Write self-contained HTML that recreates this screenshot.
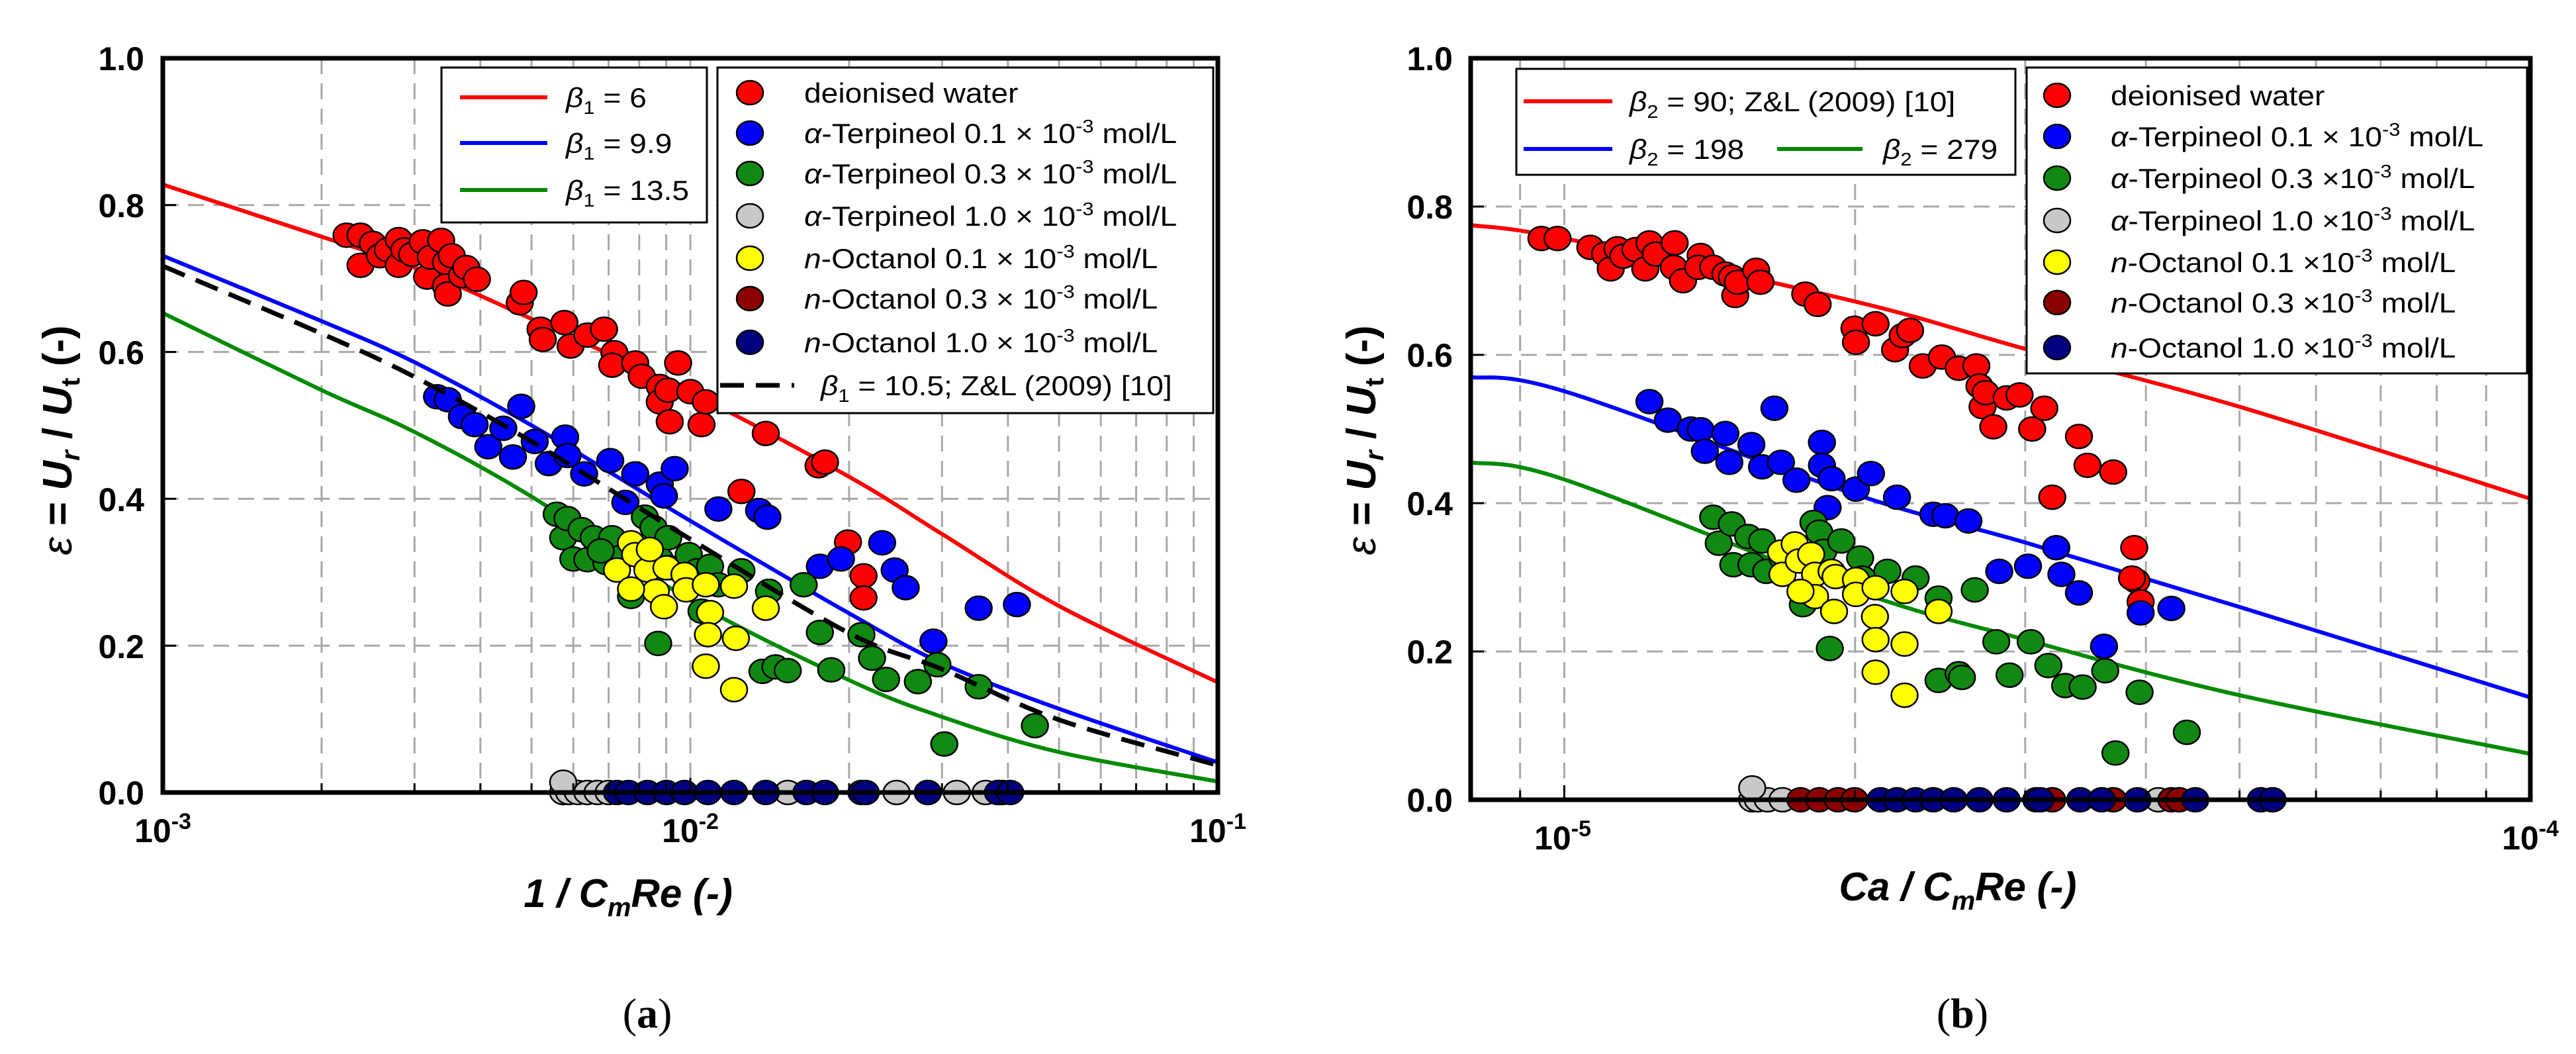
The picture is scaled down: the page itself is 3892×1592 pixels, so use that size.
<!DOCTYPE html>
<html><head><meta charset="utf-8"><style>
html,body{margin:0;padding:0;background:#fff;}
svg{display:block;font-family:"Liberation Sans",Arial,sans-serif;}
</style></head><body>
<svg id="fig" width="3892" height="1592" viewBox="0 0 3892 1592" xmlns="http://www.w3.org/2000/svg">
<rect x="0" y="0" width="3892" height="1592" fill="#fff"/>
<g id="gridA"></g>
<g id="gridB"></g>
<g id="curvesA"></g>
<g id="curvesB"></g>
<g id="ptsA"></g>
<g id="ptsB"></g>
<g id="ticksA"></g>
<g id="ticksB"></g>
<rect x="246" y="88" width="1594" height="1109" fill="none" stroke="#000" stroke-width="7"/>
<rect x="2222" y="88" width="1601" height="1120" fill="none" stroke="#000" stroke-width="7"/>

<g font-weight="bold" font-size="50" text-anchor="end">
<text x="218" y="106">1.0</text><text x="218" y="328">0.8</text><text x="218" y="550">0.6</text><text x="218" y="772">0.4</text><text x="218" y="994">0.2</text><text x="218" y="1215">0.0</text>
</g>
<g font-weight="bold" font-size="50" text-anchor="middle">
<text x="246" y="1272">10<tspan font-size="34" dy="-20">-3</tspan></text>
<text x="1043" y="1272">10<tspan font-size="34" dy="-20">-2</tspan></text>
<text x="1840" y="1272">10<tspan font-size="34" dy="-20">-1</tspan></text>
</g>
<text transform="translate(108,665) rotate(-90)" text-anchor="middle" font-size="62" font-weight="bold"><tspan font-style="italic" font-weight="normal">ε</tspan> = <tspan font-style="italic">U</tspan><tspan font-size="40" dy="12" font-style="italic">r</tspan><tspan dy="-12"> / </tspan><tspan font-style="italic">U</tspan><tspan font-size="40" dy="12">t</tspan><tspan dy="-12"> (-)</tspan></text>
<text x="949" y="1370" text-anchor="middle" font-size="60" font-weight="bold" font-style="italic">1 / C<tspan font-size="40" dy="14">m</tspan><tspan dy="-14">Re (-)</tspan></text>
<text x="978" y="1552" text-anchor="middle" font-size="64" font-family="Liberation Serif, serif">(<tspan font-weight="bold">a</tspan>)</text>

<g font-weight="bold" font-size="50" text-anchor="end">
<text x="2195" y="106">1.0</text><text x="2195" y="330">0.8</text><text x="2195" y="554">0.6</text><text x="2195" y="778">0.4</text><text x="2195" y="1002">0.2</text><text x="2195" y="1226">0.0</text>
</g>
<g font-weight="bold" font-size="50" text-anchor="middle">
<text x="2361" y="1283">10<tspan font-size="34" dy="-20">-5</tspan></text>
<text x="3823" y="1283">10<tspan font-size="34" dy="-20">-4</tspan></text>
</g>
<text transform="translate(2078,665) rotate(-90)" text-anchor="middle" font-size="62" font-weight="bold"><tspan font-style="italic" font-weight="normal">ε</tspan> = <tspan font-style="italic">U</tspan><tspan font-size="40" dy="12" font-style="italic">r</tspan><tspan dy="-12"> / </tspan><tspan font-style="italic">U</tspan><tspan font-size="40" dy="12">t</tspan><tspan dy="-12"> (-)</tspan></text>
<text x="2958" y="1360" text-anchor="middle" font-size="60" font-weight="bold" font-style="italic">Ca / C<tspan font-size="40" dy="14">m</tspan><tspan dy="-14">Re (-)</tspan></text>
<text x="2965" y="1552" text-anchor="middle" font-size="64" font-family="Liberation Serif, serif">(<tspan font-weight="bold">b</tspan>)</text>

<g font-size="42">
<rect x="667" y="102" width="401" height="234" fill="#fff" stroke="#000" stroke-width="3"/>
<line x1="695" y1="147" x2="827" y2="147" stroke="#ff0000" stroke-width="6"/>
<line x1="695" y1="216" x2="827" y2="216" stroke="#0000ff" stroke-width="6"/>
<line x1="695" y1="287" x2="827" y2="287" stroke="#008a00" stroke-width="6"/>
<text x="855" y="162" transform="translate(855,0) scale(1.1,1) translate(-855,0)"><tspan font-style="italic">β</tspan><tspan font-size="28" dy="10">1</tspan><tspan dy="-10"> = 6</tspan></text>
<text x="855" y="231" transform="translate(855,0) scale(1.1,1) translate(-855,0)"><tspan font-style="italic">β</tspan><tspan font-size="28" dy="10">1</tspan><tspan dy="-10"> = 9.9</tspan></text>
<text x="855" y="302" transform="translate(855,0) scale(1.1,1) translate(-855,0)"><tspan font-style="italic">β</tspan><tspan font-size="28" dy="10">1</tspan><tspan dy="-10"> = 13.5</tspan></text>
</g>
<g font-size="42">
<rect x="1084" y="102" width="749" height="522" fill="#fff" stroke="#000" stroke-width="3"/>
<ellipse cx="1133" cy="140" rx="20" ry="18" fill="#ff0000" stroke="#000" stroke-width="2.5"/>
<ellipse cx="1133" cy="201" rx="20" ry="18" fill="#0000ff" stroke="#000" stroke-width="2.5"/>
<ellipse cx="1133" cy="262" rx="20" ry="18" fill="#118811" stroke="#000" stroke-width="2.5"/>
<ellipse cx="1133" cy="326" rx="20" ry="18" fill="#c8c8c8" stroke="#000" stroke-width="2.5"/>
<ellipse cx="1133" cy="390" rx="20" ry="18" fill="#ffff00" stroke="#000" stroke-width="2.5"/>
<ellipse cx="1133" cy="451" rx="20" ry="18" fill="#8b0000" stroke="#000" stroke-width="2.5"/>
<ellipse cx="1133" cy="517" rx="20" ry="18" fill="#000080" stroke="#000" stroke-width="2.5"/>
<g transform="translate(1215,0) scale(1.1,1)">
<text x="0" y="155">deionised water</text>
<text x="0" y="216"><tspan font-style="italic">α</tspan>-Terpineol 0.1 × 10<tspan font-size="28" dy="-16">-3</tspan><tspan dy="16"> mol/L</tspan></text>
<text x="0" y="277"><tspan font-style="italic">α</tspan>-Terpineol 0.3 × 10<tspan font-size="28" dy="-16">-3</tspan><tspan dy="16"> mol/L</tspan></text>
<text x="0" y="341"><tspan font-style="italic">α</tspan>-Terpineol 1.0 × 10<tspan font-size="28" dy="-16">-3</tspan><tspan dy="16"> mol/L</tspan></text>
<text x="0" y="405"><tspan font-style="italic">n</tspan>-Octanol 0.1 × 10<tspan font-size="28" dy="-16">-3</tspan><tspan dy="16"> mol/L</tspan></text>
<text x="0" y="466"><tspan font-style="italic">n</tspan>-Octanol 0.3 × 10<tspan font-size="28" dy="-16">-3</tspan><tspan dy="16"> mol/L</tspan></text>
<text x="0" y="532"><tspan font-style="italic">n</tspan>-Octanol 1.0 × 10<tspan font-size="28" dy="-16">-3</tspan><tspan dy="16"> mol/L</tspan></text>
</g>
<line x1="1088" y1="582" x2="1200" y2="582" stroke="#000" stroke-width="7" stroke-dasharray="36 18"/>
<text x="1240" y="597" transform="translate(1240,0) scale(1.1,1) translate(-1240,0)"><tspan font-style="italic">β</tspan><tspan font-size="28" dy="10">1</tspan><tspan dy="-10"> = 10.5; Z&amp;L (2009) [10]</tspan></text>
</g>

<g font-size="42">
<rect x="2291" y="104" width="754" height="160" fill="#fff" stroke="#000" stroke-width="3"/>
<line x1="2302" y1="153" x2="2436" y2="153" stroke="#ff0000" stroke-width="6"/>
<line x1="2302" y1="225" x2="2436" y2="225" stroke="#0000ff" stroke-width="6"/>
<line x1="2685" y1="225" x2="2814" y2="225" stroke="#008a00" stroke-width="6"/>
<text x="2462" y="168" transform="translate(2462,0) scale(1.1,1) translate(-2462,0)"><tspan font-style="italic">β</tspan><tspan font-size="28" dy="10">2</tspan><tspan dy="-10"> = 90; Z&amp;L (2009) [10]</tspan></text>
<text x="2462" y="240" transform="translate(2462,0) scale(1.1,1) translate(-2462,0)"><tspan font-style="italic">β</tspan><tspan font-size="28" dy="10">2</tspan><tspan dy="-10"> = 198</tspan></text>
<text x="2845" y="240" transform="translate(2845,0) scale(1.1,1) translate(-2845,0)"><tspan font-style="italic">β</tspan><tspan font-size="28" dy="10">2</tspan><tspan dy="-10"> = 279</tspan></text>
</g>
<g font-size="42">
<rect x="3062" y="102" width="756" height="462" fill="#fff" stroke="#000" stroke-width="3"/>
<ellipse cx="3108" cy="144" rx="20" ry="18" fill="#ff0000" stroke="#000" stroke-width="2.5"/>
<ellipse cx="3108" cy="206" rx="20" ry="18" fill="#0000ff" stroke="#000" stroke-width="2.5"/>
<ellipse cx="3108" cy="269" rx="20" ry="18" fill="#118811" stroke="#000" stroke-width="2.5"/>
<ellipse cx="3108" cy="333" rx="20" ry="18" fill="#c8c8c8" stroke="#000" stroke-width="2.5"/>
<ellipse cx="3108" cy="396" rx="20" ry="18" fill="#ffff00" stroke="#000" stroke-width="2.5"/>
<ellipse cx="3108" cy="457" rx="20" ry="18" fill="#8b0000" stroke="#000" stroke-width="2.5"/>
<ellipse cx="3108" cy="525" rx="20" ry="18" fill="#000080" stroke="#000" stroke-width="2.5"/>
<g transform="translate(3189,0) scale(1.1,1)">
<text x="0" y="159">deionised water</text>
<text x="0" y="221"><tspan font-style="italic">α</tspan>-Terpineol 0.1 × 10<tspan font-size="28" dy="-16">-3</tspan><tspan dy="16"> mol/L</tspan></text>
<text x="0" y="284"><tspan font-style="italic">α</tspan>-Terpineol 0.3 ×10<tspan font-size="28" dy="-16">-3</tspan><tspan dy="16"> mol/L</tspan></text>
<text x="0" y="348"><tspan font-style="italic">α</tspan>-Terpineol 1.0 ×10<tspan font-size="28" dy="-16">-3</tspan><tspan dy="16"> mol/L</tspan></text>
<text x="0" y="411"><tspan font-style="italic">n</tspan>-Octanol 0.1 ×10<tspan font-size="28" dy="-16">-3</tspan><tspan dy="16"> mol/L</tspan></text>
<text x="0" y="472"><tspan font-style="italic">n</tspan>-Octanol 0.3 ×10<tspan font-size="28" dy="-16">-3</tspan><tspan dy="16"> mol/L</tspan></text>
<text x="0" y="540"><tspan font-style="italic">n</tspan>-Octanol 1.0 ×10<tspan font-size="28" dy="-16">-3</tspan><tspan dy="16"> mol/L</tspan></text>
</g>
</g>
</svg>
<script>
// ---------- Panel A data (x = 1/CmRe) ----------
const aRedX=[2.23e-3,2.37e-3,2.37e-3,2.50e-3,2.58e-3,2.67e-3,2.80e-3,2.80e-3,2.87e-3,2.97e-3,3.11e-3,3.17e-3,3.22e-3,3.37e-3,3.44e-3,3.53e-3,3.44e-3,3.47e-3,3.69e-3,3.76e-3,3.94e-3,4.75e-3,4.83e-3,5.20e-3,5.25e-3,5.77e-3,5.93e-3,6.38e-3,6.86e-3,7.18e-3,7.11e-3,7.86e-3,8.09e-3,8.75e-3,8.75e-3,9.08e-3,9.14e-3,9.48e-3,1.00e-2,1.05e-2,1.07e-2,1.39e-2,1.75e-2,1.80e-2,1.25e-2,1.99e-2,2.13e-2,2.13e-2];
const aRedY=[0.759,0.759,0.718,0.748,0.731,0.739,0.753,0.718,0.739,0.733,0.750,0.702,0.729,0.752,0.722,0.731,0.690,0.679,0.704,0.715,0.699,0.667,0.681,0.631,0.617,0.640,0.608,0.623,0.631,0.599,0.582,0.585,0.567,0.553,0.532,0.548,0.505,0.585,0.546,0.501,0.532,0.489,0.445,0.450,0.410,0.341,0.295,0.265];
const aBlueX=[3.31e-3,3.47e-3,3.69e-3,3.90e-3,4.14e-3,4.42e-3,4.61e-3,4.78e-3,5.07e-3,5.39e-3,5.79e-3,5.85e-3,6.29e-3,7.05e-3,7.53e-3,7.86e-3,8.75e-3,8.91e-3,9.34e-3,1.13e-2,1.35e-2,1.40e-2,1.76e-2,1.93e-2,2.31e-2,2.44e-2,2.56e-2,2.89e-2,3.52e-2,4.16e-2];
const aBlueY=[0.539,0.535,0.512,0.501,0.471,0.496,0.457,0.526,0.478,0.448,0.484,0.459,0.434,0.452,0.395,0.434,0.420,0.404,0.441,0.386,0.384,0.375,0.308,0.318,0.340,0.303,0.279,0.206,0.251,0.256];
const aGreenX=[5.58e-3,5.74e-3,5.85e-3,6.00e-3,6.22e-3,6.38e-3,6.56e-3,6.93e-3,7.11e-3,7.36e-3,7.72e-3,8.20e-3,8.51e-3,8.75e-3,9.08e-3,9.14e-3,9.93e-3,1.03e-2,1.09e-2,1.13e-2,1.25e-2,1.41e-2,1.64e-2,1.76e-2,1.85e-2,2.11e-2,2.21e-2,2.35e-2,2.70e-2,2.94e-2,3.03e-2,3.52e-2,4.50e-2,1.37e-2,1.45e-2,1.53e-2,8.69e-3,1.05e-2,6.76e-3];
const aGreenY=[0.379,0.347,0.373,0.318,0.358,0.317,0.347,0.313,0.347,0.320,0.267,0.375,0.361,0.318,0.347,0.306,0.324,0.302,0.308,0.283,0.302,0.274,0.283,0.218,0.167,0.215,0.183,0.154,0.151,0.174,0.066,0.144,0.091,0.165,0.171,0.166,0.203,0.247,0.329];
const aGreyX=[5.74e-3,5.89e-3,6.12e-3,6.38e-3,6.67e-3,7.00e-3,1.53e-2,2.46e-2,3.20e-2,3.63e-2,3.90e-2,5.74e-3];
const aGreyY=[0,0,0,0,0,0,0,0,0,0,0,0.014];
const aYellowX=[7.26e-3,7.72e-3,7.86e-3,8.29e-3,8.38e-3,8.60e-3,9.01e-3,8.91e-3,9.75e-3,9.82e-3,1.07e-2,1.09e-2,1.08e-2,1.07e-2,1.21e-2,1.22e-2,1.21e-2,1.39e-2,7.72e-3];
const aYellowY=[0.303,0.340,0.324,0.303,0.331,0.274,0.306,0.253,0.297,0.276,0.283,0.245,0.215,0.172,0.281,0.210,0.140,0.251,0.277];
const aDarkRedX=[2.82e-2,3.85e-2];
const aDarkRedY=[0,0];
const aNavyX=[7.26e-3,7.63e-3,8.29e-3,9.01e-3,9.75e-3,1.08e-2,1.21e-2,1.39e-2,1.66e-2,1.80e-2,2.11e-2,2.15e-2,2.82e-2,3.83e-2,4.04e-2];
const aNavyY=[0,0,0,0,0,0,0,0,0,0,0,0,0,0,0];
const aCurveX=[1e-3,2e-3,3e-3,5e-3,1e-2,2e-2,3e-2,5e-2,1e-1];
const aBeta6=[0.828,0.757,0.715,0.645,0.545,0.430,0.352,0.254,0.150];
const aBeta99=[0.731,0.642,0.586,0.500,0.370,0.244,0.176,0.114,0.041];
const aBeta135=[0.653,0.548,0.491,0.403,0.262,0.153,0.103,0.055,0.015];
const aBeta105=[0.717,0.625,0.566,0.478,0.345,0.217,0.168,0.099,0.037];

// ---------- Panel B data (x = Ca/CmRe) ----------
const bRedX=[0.947e-5,0.984e-5,1.064e-5,1.102e-5,1.117e-5,1.135e-5,1.151e-5,1.185e-5,1.213e-5,1.225e-5,1.244e-5,1.301e-5,1.298e-5,1.327e-5,1.384e-5,1.376e-5,1.426e-5,1.468e-5,1.491e-5,1.503e-5,1.512e-5,1.580e-5,1.596e-5,1.776e-5,1.829e-5,1.997e-5,2.004e-5,2.10e-5,2.20e-5,2.24e-5,2.28e-5,2.35e-5,2.46e-5,2.56e-5,2.67e-5,2.69e-5,2.71e-5,2.73e-5,2.78e-5,2.87e-5,2.96e-5,3.05e-5,3.14e-5,3.20e-5,3.41e-5,3.48e-5,3.70e-5,3.89e-5,3.91e-5,3.95e-5,3.87e-5];
const bRedY=[0.757,0.757,0.745,0.736,0.716,0.743,0.733,0.742,0.716,0.751,0.736,0.751,0.718,0.700,0.734,0.718,0.718,0.709,0.705,0.680,0.698,0.714,0.698,0.682,0.668,0.636,0.617,0.642,0.607,0.626,0.633,0.585,0.597,0.582,0.585,0.558,0.530,0.549,0.503,0.542,0.546,0.500,0.528,0.408,0.490,0.451,0.442,0.340,0.295,0.267,0.299];
const bBlueX=[1.225e-5,1.280e-5,1.352e-5,1.384e-5,1.398e-5,1.468e-5,1.482e-5,1.562e-5,1.602e-5,1.650e-5,1.676e-5,1.739e-5,1.848e-5,1.848e-5,1.891e-5,1.873e-5,2.004e-5,2.077e-5,2.21e-5,2.41e-5,2.48e-5,2.62e-5,2.82e-5,3.02e-5,3.23e-5,3.27e-5,3.41e-5,3.62e-5,3.95e-5,4.25e-5];
const bBlueY=[0.537,0.512,0.500,0.499,0.470,0.494,0.455,0.479,0.449,0.528,0.455,0.431,0.482,0.451,0.433,0.394,0.419,0.440,0.408,0.385,0.383,0.376,0.308,0.315,0.340,0.304,0.279,0.207,0.252,0.258];
const bGreenX=[1.426e-5,1.445e-5,1.491e-5,1.496e-5,1.550e-5,1.562e-5,1.602e-5,1.618e-5,1.682e-5,1.811e-5,1.836e-5,1.854e-5,1.935e-5,2.024e-5,2.036e-5,2.16e-5,2.31e-5,2.44e-5,2.66e-5,2.80e-5,3.04e-5,2.44e-5,2.56e-5,2.58e-5,2.89e-5,3.17e-5,3.30e-5,3.44e-5,3.63e-5,3.94e-5,3.72e-5,4.41e-5,1.883e-5,1.766e-5];
const bGreenY=[0.381,0.346,0.372,0.317,0.355,0.317,0.349,0.308,0.326,0.374,0.361,0.335,0.349,0.326,0.299,0.308,0.299,0.272,0.283,0.213,0.213,0.161,0.170,0.165,0.168,0.181,0.154,0.152,0.174,0.145,0.063,0.091,0.204,0.263];
const bGreyX=[1.565e-5,1.586e-5,1.624e-5,1.682e-5,4.12e-5,1.565e-5];
const bGreyY=[0,0,0,0,0,0.016];
const bYellowX=[1.676e-5,1.682e-5,1.732e-5,1.749e-5,1.801e-5,1.818e-5,1.818e-5,1.756e-5,1.891e-5,1.909e-5,2.004e-5,2.004e-5,1.902e-5,2.10e-5,2.097e-5,2.10e-5,2.10e-5,2.25e-5,2.25e-5,2.25e-5,2.44e-5];
const bYellowY=[0.334,0.304,0.345,0.322,0.331,0.304,0.274,0.281,0.308,0.301,0.297,0.277,0.254,0.286,0.247,0.216,0.172,0.281,0.210,0.141,0.254];
const bDarkRedX=[1.756e-5,1.836e-5,1.920e-5,1.997e-5,3.20e-5,4.25e-5,4.33e-5,3.70e-5];
const bDarkRedY=[0,0,0,0,0,0,0,0];
const bNavyX=[2.125e-5,2.21e-5,2.31e-5,2.41e-5,2.53e-5,2.69e-5,2.87e-5,3.08e-5,3.11e-5,3.42e-5,3.60e-5,3.92e-5,4.50e-5,5.26e-5,5.41e-5];
const bNavyY=[0,0,0,0,0,0,0,0,0,0,0,0,0,0,0];
const bCurveX=[8e-6,1e-5,2e-5,3e-5,5e-5,1e-4];
const bBeta90=[0.775,0.757,0.672,0.608,0.530,0.406];
const bBeta198=[0.570,0.551,0.412,0.347,0.260,0.138];
const bBeta279=[0.455,0.432,0.282,0.216,0.141,0.062];
const yTicks=[0,0.2,0.4,0.6,0.8,1.0];

const NS='http://www.w3.org/2000/svg';
function mk(tag,parent){const e=document.createElementNS(NS,tag);parent.appendChild(e);return e;}
const panelA={x0:246,x1:1840,y0:1197,y1:88,lmin:-3,lmax:-1};
const panelB={x0:2222,x1:3823,y0:1208,y1:88,lmin:Math.log10(8e-6),lmax:-4};
function sx(p,v){return p.x0+(Math.log10(v)-p.lmin)/(p.lmax-p.lmin)*(p.x1-p.x0);}
function sy(p,v){return p.y0-v*(p.y0-p.y1);}

function grid(p,gid,tid){
  const g=document.getElementById(gid), t=document.getElementById(tid);
  for(let d=Math.floor(p.lmin);d<p.lmax;d++){
    for(let m=1;m<10;m++){
      const v=m*Math.pow(10,d);const lv=Math.log10(v);
      if(lv<=p.lmin+1e-6||lv>=p.lmax-1e-6)continue;
      const x=sx(p,v);
      const l=mk('line',g);
      
      
      l.setAttribute('x1',x);l.setAttribute('x2',x);l.setAttribute('y1',p.y1);l.setAttribute('y2',p.y0);
      l.setAttribute('stroke','#a8a8a8');l.setAttribute('stroke-width','3');l.setAttribute('stroke-dasharray','24 14');
      const tk=mk('line',t);
      
      
      tk.setAttribute('x1',x);tk.setAttribute('x2',x);tk.setAttribute('y1',p.y0);tk.setAttribute('y2',p.y0-(m==1?22:14));
      tk.setAttribute('stroke','#000');tk.setAttribute('stroke-width','3');
    }
  }
  yTicks.forEach(v=>{
    if(v<=0||v>=1)return;
    const y=sy(p,v);
    const l=mk('line',g);
    
    
    l.setAttribute('x1',p.x0);l.setAttribute('x2',p.x1);l.setAttribute('y1',y);l.setAttribute('y2',y);
    l.setAttribute('stroke','#a8a8a8');l.setAttribute('stroke-width','3');l.setAttribute('stroke-dasharray','24 14');
    const tk=mk('line',t);
    
    
    tk.setAttribute('x1',p.x0);tk.setAttribute('x2',p.x0+20);tk.setAttribute('y1',y);tk.setAttribute('y2',y);
    tk.setAttribute('stroke','#000');tk.setAttribute('stroke-width','3');
  });
}
grid(panelA,'gridA','ticksA');
grid(panelB,'gridB','ticksB');

function curve(p,gid,xs,ys,color,name,dash){
  const g=document.getElementById(gid);
  const P=xs.map((x,i)=>[sx(p,x),sy(p,ys[i])]);
  let d='M'+P[0][0]+','+P[0][1];
  for(let i=0;i<P.length-1;i++){
    const p0=P[Math.max(0,i-1)],p1=P[i],p2=P[i+1],p3=P[Math.min(P.length-1,i+2)];
    const c1=[p1[0]+(p2[0]-p0[0])/6,p1[1]+(p2[1]-p0[1])/6];
    const c2=[p2[0]-(p3[0]-p1[0])/6,p2[1]-(p3[1]-p1[1])/6];
    d+=' C'+c1[0].toFixed(1)+','+c1[1].toFixed(1)+' '+c2[0].toFixed(1)+','+c2[1].toFixed(1)+' '+p2[0].toFixed(1)+','+p2[1].toFixed(1);
  }
  const e=mk('path',g);
  
  
  e.setAttribute('d',d);e.setAttribute('fill','none');e.setAttribute('stroke',color);
  e.setAttribute('stroke-width',dash?'7':'6');
  if(dash)e.setAttribute('stroke-dasharray','36 18');
}
curve(panelA,'curvesA',aCurveX,aBeta6,'#ff0000','curve-beta1-6',false);
curve(panelA,'curvesA',aCurveX,aBeta99,'#0000ff','curve-beta1-9-9',false);
curve(panelA,'curvesA',aCurveX,aBeta135,'#008a00','curve-beta1-13-5',false);
curve(panelB,'curvesB',bCurveX,bBeta90,'#ff0000','curve-beta2-90',false);
curve(panelB,'curvesB',bCurveX,bBeta198,'#0000ff','curve-beta2-198',false);
curve(panelB,'curvesB',bCurveX,bBeta279,'#008a00','curve-beta2-279',false);

function points(p,gid,xs,ys,color,name){
  const g=document.getElementById(gid);
  xs.forEach((x,i)=>{
    const c=mk('ellipse',g);
    
    
    c.setAttribute('cx',sx(p,x).toFixed(1));c.setAttribute('cy',sy(p,ys[i]).toFixed(1));
    c.setAttribute('rx','20');c.setAttribute('ry','18');
    c.setAttribute('fill',color);c.setAttribute('stroke','#000');c.setAttribute('stroke-width','2.5');
  });
}
points(panelA,'ptsA',aGreyX,aGreyY,'#c8c8c8','point-terpineol-1-0');
points(panelA,'ptsA',aDarkRedX,aDarkRedY,'#8b0000','point-octanol-0-3');
points(panelA,'ptsA',aNavyX,aNavyY,'#000080','point-octanol-1-0');
points(panelA,'ptsA',aRedX,aRedY,'#ff0000','point-deionised-water');
points(panelA,'ptsA',aBlueX,aBlueY,'#0000ff','point-terpineol-0-1');
points(panelA,'ptsA',aGreenX,aGreenY,'#118811','point-terpineol-0-3');
points(panelA,'ptsA',aYellowX,aYellowY,'#ffff00','point-octanol-0-1');
curve(panelA,'ptsA',aCurveX,aBeta105,'#000','curve-beta1-10-5-zl2009',true);

points(panelB,'ptsB',bGreyX,bGreyY,'#c8c8c8','point-terpineol-1-0');
points(panelB,'ptsB',bDarkRedX,bDarkRedY,'#8b0000','point-octanol-0-3');
points(panelB,'ptsB',bNavyX,bNavyY,'#000080','point-octanol-1-0');
points(panelB,'ptsB',bRedX,bRedY,'#ff0000','point-deionised-water');
points(panelB,'ptsB',bBlueX,bBlueY,'#0000ff','point-terpineol-0-1');
points(panelB,'ptsB',bGreenX,bGreenY,'#118811','point-terpineol-0-3');
points(panelB,'ptsB',bYellowX,bYellowY,'#ffff00','point-octanol-0-1');
</script>
</body></html>
